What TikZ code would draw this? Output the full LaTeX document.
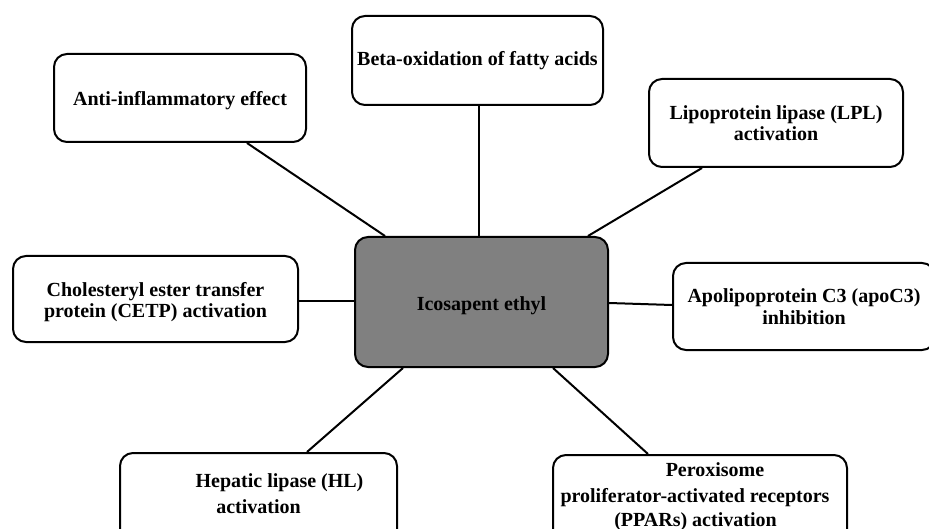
\documentclass[tikz,border=0pt]{standalone}
\usepackage{fontspec}
\setmainfont{Liberation Serif}
\begin{document}
\begin{tikzpicture}[x=1pt,y=-1pt,
  box/.style={draw=black, line width=2pt, rounded corners=13pt, fill=white, inner sep=0pt, align=center,
    font=\fontsize{20}{21}\selectfont\bfseries},
  hub/.style={box, fill=black!50},
  link/.style={draw=black, line width=2pt},
  txt/.style={inner sep=0pt, anchor=base, font=\fontsize{20}{21}\selectfont\bfseries}]
\useasboundingbox (0,0) rectangle (929,529);
\begin{scope}
\clip (0,0) rectangle (929,529);
\node[hub, minimum width=253pt, minimum height=130pt, text height=21pt, text depth=4.5pt] (hub) at (481.5,302) {Icosapent ethyl};
\node[box, minimum width=252pt, minimum height=88pt, text height=19pt, text depth=4.5pt] (anti) at (180,98) {Anti-inflammatory effect};
\node[box, minimum width=251pt, minimum height=89pt, text height=15pt, text depth=4.5pt] (beta) at (477.5,60.5) {Beta-oxidation of fatty acids};
\node[box, minimum width=254pt, minimum height=88pt] (lpl) at (776,123) {Lipoprotein lipase (LPL)\\activation};
\node[box, minimum width=285pt, minimum height=86pt] (cetp) at (155.5,299) {};
\node[txt] (cetp1) at (155.5,297) {Cholesteryl ester transfer};
\node[txt] (cetp2) at (155.5,317) {protein (CETP) activation};
\node[box, minimum width=262pt, minimum height=87pt, font=\fontsize{20}{22}\selectfont\bfseries] (apo) at (804,306.5) {Apolipoprotein C3 (apoC3)\\inhibition};
\node[box, minimum width=277pt, minimum height=90pt] (hl) at (258.5,498) {};
\node[txt] (hl1) at (279.5,487) {Hepatic lipase (HL)};
\node[txt] (hl2) at (258.5,513) {activation};
\node[box, minimum width=294pt, minimum height=90pt] (ppar) at (700,500) {};
\node[txt] (pp1) at (715,476) {Peroxisome};
\node[txt] (pp2) at (695,502) {proliferator-activated receptors};
\node[txt] (pp3) at (695.5,526) {(PPARs) activation};
\end{scope}
\draw[link] (anti.south -| 247,0) -- (hub.north -| 385,0);
\draw[link] (beta.south -| 479,0) -- (hub.north -| 479,0);
\draw[link] (lpl.south -| 702,0) -- (hub.north -| 588,0);
\draw[link] (cetp.east |- 0,301) -- (hub.west |- 0,301);
\draw[link] (hub.east |- 0,303) -- (apo.west |- 0,305);
\draw[link] (hub.south -| 403,0) -- (hl.north -| 307,0);
\draw[link] (hub.south -| 553,0) -- (ppar.north -| 648,0);
\end{tikzpicture}
\end{document}
